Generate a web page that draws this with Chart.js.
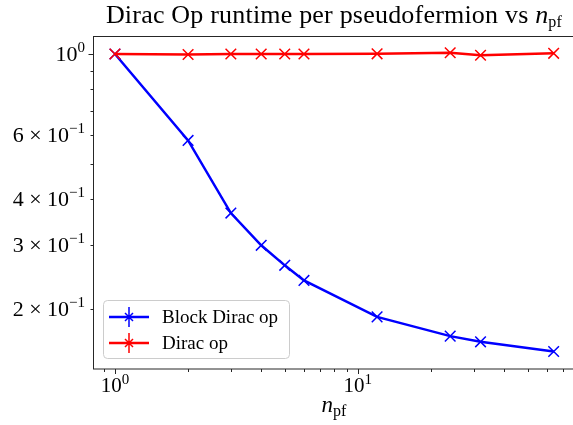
<!DOCTYPE html>
<html>
<head>
<meta charset="utf-8">
<script src="https://cdn.jsdelivr.net/npm/chart.js@4"></script>
<style>
  html, body { margin: 0; padding: 0; background: #fff; overflow: hidden; }
  #wrap { position: relative; width: 573px; height: 425px; overflow: hidden; }
  #box { position: absolute; left: 0; top: 0; width: 590px; height: 425px; }
  .lbl { position: absolute; font-family: "Liberation Serif", "DejaVu Serif", serif; color: #000; white-space: nowrap; }
  #title { top: 0px; left: 93px; width: 482px; text-align: center; font-size: 26px; letter-spacing: 0.2px; }
  #xlabel { top: 392px; left: 93px; width: 482px; text-align: center; font-size: 23px; }
  sub { font-size: 16px; vertical-align: -4px; font-style: normal; }
</style>
</head>
<body>
<div id="wrap">
  <div id="box"><canvas id="chart" width="590" height="425"></canvas></div>
  <div class="lbl" id="title">Dirac Op runtime per pseudofermion vs <i>n</i><sub>pf</sub></div>
  <div class="lbl" id="xlabel"><i>n</i><sub>pf</sub></div>
</div>
<script>
// n_pf values and runtimes per pseudofermion
const npf = [1, 2, 3, 4, 5, 6, 12, 24, 32, 64];
const blockDirac = [1.0, 0.580, 0.367, 0.2995, 0.264, 0.240, 0.1908, 0.169, 0.163, 0.1534];
const dirac = [1.0, 0.997, 1.0, 1.0, 1.0, 1.0, 1.001, 1.008, 0.992, 1.004];

// axis ticks
const xMajor = [1, 10];
const xMinor = [0.9, 2, 3, 4, 5, 6, 7, 8, 9, 20, 30, 40, 50, 60, 70];
const yMajor = [1];
const yMinor = [0.2, 0.3, 0.4, 0.5, 0.6, 0.7, 0.8, 0.9];
const xTickLabels = [[1, '10', '0'], [10, '10', '1']];
const yTickLabels = [[1, '', '10', '0'], [0.6, '6 \u00d7 ', '10', '\u22121'], [0.4, '4 \u00d7 ', '10', '\u22121'],
                     [0.3, '3 \u00d7 ', '10', '\u22121'], [0.2, '2 \u00d7 ', '10', '\u22121']];

const seriesNames = ['Block Dirac op', 'Dirac op'];
const seriesColors = ['#0000ff', '#ff0000'];

const FONT = '"Liberation Serif", "DejaVu Serif", serif';

const mkPoints = ys => npf.map((x, i) => ({ x: x, y: ys[i] }));

const axesPlugin = {
  id: 'axesPlugin',
  afterDraw(chart) {
    const ctx = chart.ctx;
    const a = chart.chartArea;
    const xs = chart.scales.x, ys = chart.scales.y;
    ctx.save();
    // spines
    ctx.strokeStyle = '#262626';
    ctx.lineWidth = 1;
    ctx.strokeRect(a.left + 0.5, a.top + 0.5, a.right - a.left, a.bottom - a.top);
    // tick marks
    ctx.beginPath();
    xMajor.concat(xMinor).forEach(v => {
      const px = Math.round(xs.getPixelForValue(v)) + 0.5;
      const len = xMajor.includes(v) ? 5 : 3;
      ctx.moveTo(px, a.bottom + 0.5); ctx.lineTo(px, a.bottom + 0.5 + len);
    });
    yMajor.concat(yMinor).forEach(v => {
      const py = Math.round(ys.getPixelForValue(v)) + 0.5;
      const len = yMajor.includes(v) ? 5 : 3;
      ctx.moveTo(a.left + 0.5, py); ctx.lineTo(a.left + 0.5 - len, py);
    });
    ctx.stroke();
    // tick labels
    ctx.fillStyle = '#000';
    ctx.textBaseline = 'alphabetic';
    const big = '21px ' + FONT, small = '15px ' + FONT;
    xTickLabels.forEach(([v, base, exp]) => {
      ctx.font = big; const wb = ctx.measureText(base).width;
      ctx.font = small; const we = ctx.measureText(exp).width;
      const px = xs.getPixelForValue(v);
      const x0 = px - (wb + we) / 2;
      ctx.font = big; ctx.textAlign = 'left'; ctx.fillText(base, x0, 392);
      ctx.font = small; ctx.fillText(exp, x0 + wb, 384);
    });
    const bigY = '22px ' + FONT, smallY = '15px ' + FONT;
    yTickLabels.forEach(([v, pre, base, exp]) => {
      const py = ys.getPixelForValue(v);
      const right = a.left - 8;
      ctx.font = smallY; const we = ctx.measureText(exp).width;
      ctx.font = bigY; const wb = ctx.measureText(base).width; const wp = ctx.measureText(pre).width;
      const x0 = right - we - wb - wp;
      ctx.textAlign = 'left';
      ctx.fillText(pre + base, x0, py + 7);
      ctx.font = smallY; ctx.fillText(exp, x0 + wp + wb, py - 2);
    });
    // legend
    const lx = 103, ly = 300, lw = 186, lh = 58;
    ctx.beginPath();
    ctx.roundRect(lx + 0.5, ly + 0.5, lw, lh, 4);
    ctx.fillStyle = 'rgba(255,255,255,0.8)';
    ctx.fill();
    ctx.strokeStyle = '#cccccc';
    ctx.lineWidth = 1;
    ctx.stroke();
    seriesNames.forEach((name, i) => {
      const y = 317 + i * 26;
      ctx.strokeStyle = seriesColors[i];
      ctx.lineWidth = 2.5;
      ctx.beginPath(); ctx.moveTo(109, y); ctx.lineTo(149, y); ctx.stroke();
      ctx.lineWidth = 1.5;
      ctx.beginPath();
      ctx.moveTo(129, y - 10); ctx.lineTo(129, y + 10);
      ctx.moveTo(125, y - 4); ctx.lineTo(133, y + 4);
      ctx.moveTo(125, y + 4); ctx.lineTo(133, y - 4);
      ctx.stroke();
      ctx.fillStyle = '#000';
      ctx.font = '19px ' + FONT;
      ctx.textAlign = 'left';
      ctx.fillText(name, 162, y + 6);
    });
    ctx.restore();
  }
};

new Chart(document.getElementById('chart'), {
  type: 'line',
  data: {
    datasets: [
      {
        label: seriesNames[0], data: mkPoints(blockDirac), order: 1,
        borderColor: seriesColors[0], backgroundColor: seriesColors[0], borderWidth: 2.5,
        pointStyle: 'crossRot', pointRadius: 7.5, pointBorderWidth: 1.5, tension: 0
      },
      {
        label: seriesNames[1], data: mkPoints(dirac), order: 0,
        borderColor: seriesColors[1], backgroundColor: seriesColors[1], borderWidth: 2.5,
        pointStyle: 'crossRot', pointRadius: 7.5, pointBorderWidth: 1.5, tension: 0
      }
    ]
  },
  options: {
    responsive: false,
    animation: false,
    devicePixelRatio: 1,
    layout: { padding: { left: 93, top: 36, right: 14.4, bottom: 56.5 } },
    plugins: { legend: { display: false }, tooltip: { enabled: false } },
    scales: {
      x: {
        type: 'logarithmic', min: 0.812, max: 78.8,
        grid: { display: false, drawTicks: false }, border: { display: false },
        ticks: { display: false },
        afterFit: s => { s.height = 0; }
      },
      y: {
        type: 'logarithmic', min: 0.1378, max: 1.12,
        grid: { display: false, drawTicks: false }, border: { display: false },
        ticks: { display: false },
        afterFit: s => { s.width = 0; }
      }
    }
  },
  plugins: [axesPlugin]
});
</script>
</body>
</html>
